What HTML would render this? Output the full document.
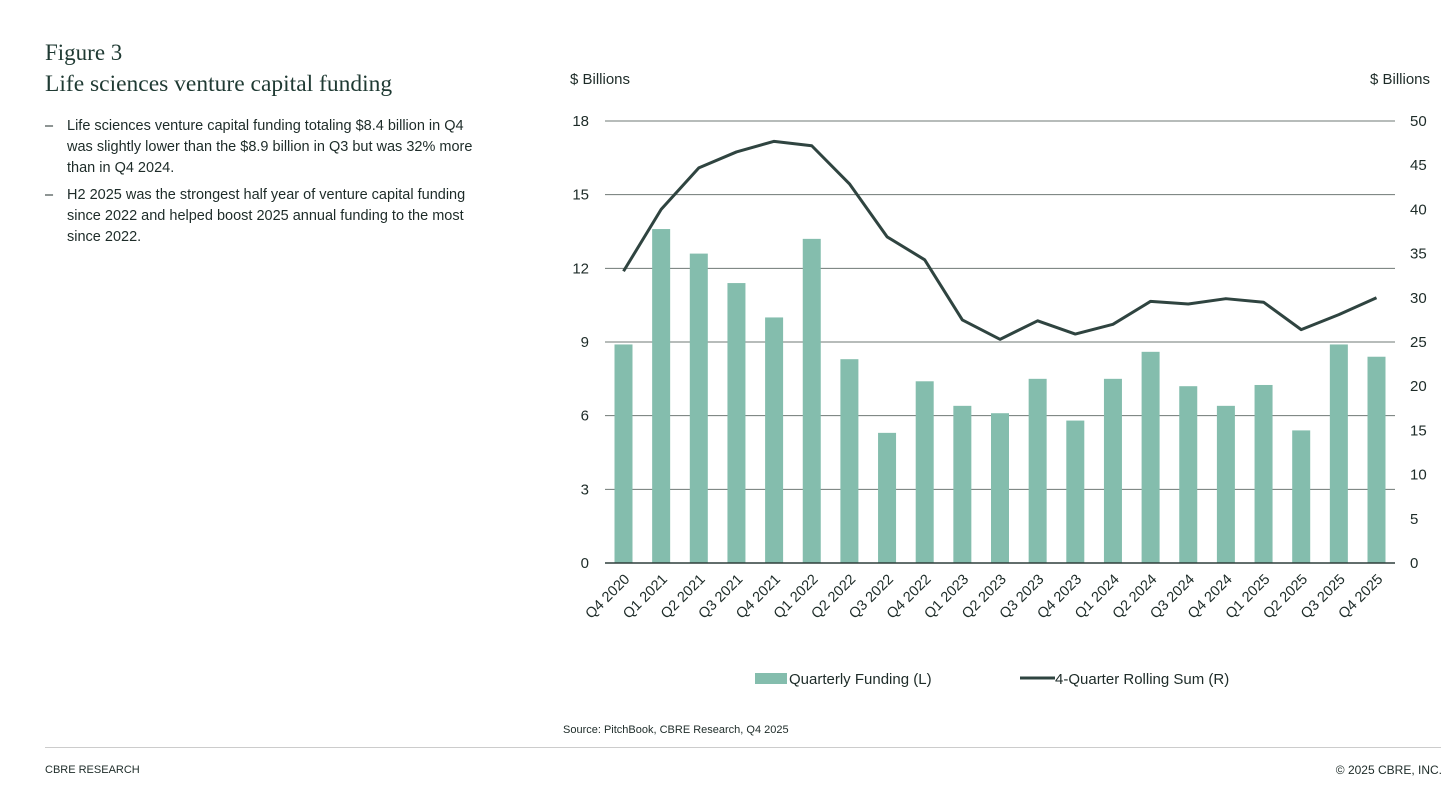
<!DOCTYPE html>
<html><head><meta charset="utf-8"><style>
body{margin:0;width:1456px;height:790px;background:#fff;font-family:"Liberation Sans",sans-serif;color:#1d2b28;position:relative;overflow:hidden}
.t{position:absolute;margin:0}
</style></head><body>
<div class="t" style="left:45px;top:40px;font-family:'Liberation Serif',serif;font-size:23px;color:#1f3a33">Figure 3</div>
<div class="t" style="left:45px;top:71px;font-family:'Liberation Serif',serif;font-size:23.5px;color:#1f3a33">Life sciences venture capital funding</div>
<div class="t" style="left:45px;top:116px;width:470px;font-size:14.5px;line-height:21px;white-space:nowrap"><span style="position:absolute;left:0">–</span><div style="margin-left:22px">Life sciences venture capital funding totaling $8.4 billion in Q4<br>was slightly lower than the $8.9 billion in Q3 but was 32% more<br>than in Q4 2024.</div></div>
<div class="t" style="left:45px;top:185px;width:470px;font-size:14.5px;line-height:21px;white-space:nowrap"><span style="position:absolute;left:0">–</span><div style="margin-left:22px">H2 2025 was the strongest half year of venture capital funding<br>since 2022 and helped boost 2025 annual funding to the most<br>since 2022.</div></div>
<svg id="c" width="1456" height="790" style="position:absolute;left:0;top:0"></svg>
<div class="t" style="left:563px;top:724px;font-size:11px">Source: PitchBook, CBRE Research, Q4 2025</div>
<div class="t" style="left:45px;top:747px;width:1396px;height:1px;background:#ccc"></div>
<div class="t" style="left:45px;top:764px;font-size:11px">CBRE RESEARCH</div>
<div class="t" style="right:14px;top:763px;font-size:12px">© 2025 CBRE, INC.</div>
<script>
const categories=["Q4 2020","Q1 2021","Q2 2021","Q3 2021","Q4 2021","Q1 2022","Q2 2022","Q3 2022","Q4 2022","Q1 2023","Q2 2023","Q3 2023","Q4 2023","Q1 2024","Q2 2024","Q3 2024","Q4 2024","Q1 2025","Q2 2025","Q3 2025","Q4 2025"];
const quarterly=[8.9,13.6,12.6,11.4,10.0,13.2,8.3,5.3,7.4,6.4,6.1,7.5,5.8,7.5,8.6,7.2,6.4,7.25,5.4,8.9,8.4];
const rolling=[33.0,40.0,44.7,46.5,47.7,47.2,42.9,36.9,34.3,27.5,25.3,27.4,25.9,27.0,29.6,29.3,29.9,29.5,26.4,28.1,30.0];
const leftTicks=[0,3,6,9,12,15,18];
const rightTicks=[0,5,10,15,20,25,30,35,40,45,50];
const NS="http://www.w3.org/2000/svg",svg=document.getElementById('c');
const x0=605,x1=1395,yB=563,yT=121;
const yL=v=>yB-(v/18)*(yB-yT), yR=v=>yB-(v/50)*(yB-yT);
const xC=i=>623.5+i*37.65;
function mk(t,a,txt){const e=document.createElementNS(NS,t);for(const k in a)e.setAttribute(k,a[k]);if(txt!=null)e.textContent=txt;svg.appendChild(e);return e;}
let e;
leftTicks.forEach(v=>{if(v>0){e=mk('line',{x1:x0,x2:x1,y1:yL(v),y2:yL(v),stroke:'#6f7875','stroke-width':1});

}
e=mk('text',{x:589,y:yL(v)+5,'text-anchor':'end','font-size':15,fill:'#1d2b28'},v);

});
rightTicks.forEach(v=>{e=mk('text',{x:1410,y:yR(v)+5,'font-size':15,fill:'#1d2b28'},v);

});
e=mk('text',{x:570,y:84,'font-size':15,fill:'#1d2b28'},'$ Billions');


e=mk('text',{x:1370,y:84,'font-size':15,fill:'#1d2b28'},'$ Billions');


quarterly.forEach((v,i)=>{e=mk('rect',{x:xC(i)-9,y:yL(v),width:18,height:yB-yL(v),fill:'#84bdad'});

});
e=mk('line',{x1:x0,x2:x1,y1:yB,y2:yB,stroke:'#2f3f3b','stroke-width':1.5});


e=mk('polyline',{points:rolling.map((v,i)=>xC(i)+','+yR(v)).join(' '),fill:'none',stroke:'#2f4440','stroke-width':3,'stroke-linejoin':'round'});


categories.forEach((c,i)=>{const tx=xC(i)+7,ty=580;e=mk('text',{x:tx,y:ty,'text-anchor':'end','font-size':14.5,fill:'#1d2b28',transform:`rotate(-45 ${tx} ${ty})`},c);

});
e=mk('rect',{x:755,y:673,width:32,height:11,fill:'#84bdad'});


e=mk('text',{x:789,y:684,'font-size':15,fill:'#1d2b28'},'Quarterly Funding (L)');


e=mk('line',{x1:1020,x2:1055,y1:678,y2:678,stroke:'#2f4440','stroke-width':3});


e=mk('text',{x:1055,y:684,'font-size':15,fill:'#1d2b28'},'4-Quarter Rolling Sum (R)');


</script>
</body></html>
